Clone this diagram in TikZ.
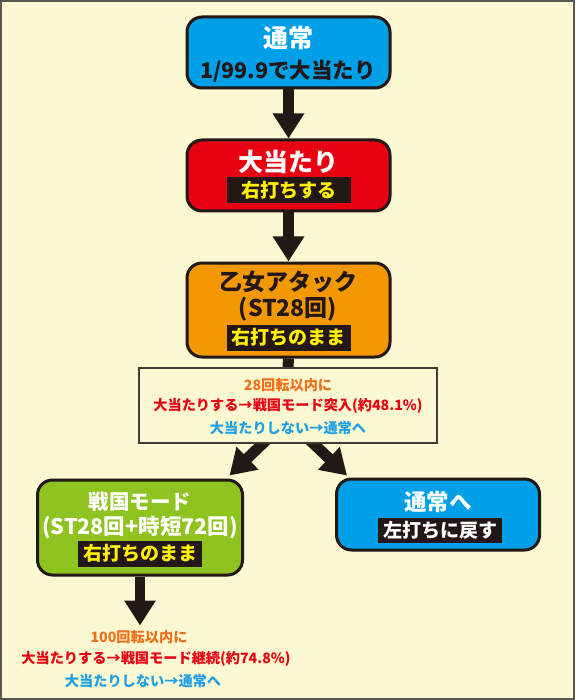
\documentclass[tikz,border=0pt]{standalone}
\usepackage{fontspec}
\setmainfont{Noto Sans CJK JP}
\usetikzlibrary{arrows.meta,calc}
\pgfdeclarelayer{bg}
\pgfsetlayers{bg,main}
\definecolor{bgc}{HTML}{FCF8D2}
\definecolor{frame}{HTML}{595757}
\definecolor{ink}{HTML}{231815}
\definecolor{cblue}{HTML}{00A0E9}
\definecolor{cred}{HTML}{E60012}
\definecolor{corange}{HTML}{F39800}
\definecolor{cgreen}{HTML}{8FC31F}
\definecolor{torange}{HTML}{EF6F1A}
\definecolor{tred}{HTML}{E60012}
\definecolor{tblue}{HTML}{1E9FE6}
\definecolor{cyellow}{HTML}{FFF100}
\tikzset{
  box/.style={draw=ink, line width=3pt, rounded corners=15pt, inner sep=0pt},
  title/.style={font=\bfseries\fontsize{#1}{#1}\selectfont, inner sep=0pt, anchor=center},
  label/.style={fill=ink, text=#1, font=\bfseries\fontsize{19}{19}\selectfont, minimum width=124pt, minimum height=26pt, inner sep=0pt},
  infobox/.style={draw=ink!85, line width=1.2pt, fill=bgc, inner sep=0pt},
  fat/.style={draw=ink, line width=11pt, -{Triangle[width=30pt,length=25pt]}},
  info/.style={font=\bfseries\fontsize{14.2}{14.2}\selectfont, inner sep=0pt, text=#1}
}
\begin{document}
\begin{tikzpicture}[x=1pt,y=-1pt]
\useasboundingbox (0,0) rectangle (575,700);
\begin{pgfonlayer}{bg}
\fill[bgc] (0,0) rectangle (575,700);
\draw[frame, line width=2pt] (1,1) rectangle (574,699);
\end{pgfonlayer}

% boxes
\node[box, fill=cblue, minimum width=203pt, minimum height=71pt] (b1) at (288.5,52.5) {};
\node[box, fill=cred, minimum width=203pt, minimum height=71pt] (b2) at (288.5,175.5) {};
\node[box, fill=corange, minimum width=203pt, minimum height=94pt] (b3) at (288.5,310) {};
\node[infobox, minimum width=298pt, minimum height=75pt] (tb) at (288,405.5) {};
\node[box, fill=cgreen, minimum width=205pt, minimum height=95pt] (b4) at (140,527.5) {};
\node[box, fill=cblue, minimum width=203pt, minimum height=71pt] (b5) at (438,514.5) {};

% box texts
\node[title=25, text=white] (t1a) at (288,38) {通常};
\node[title=21.5, text=ink] (t1b) at (288,71) {1/99.9で大当たり};
\node[title=25, text=white] (t2a) at (288,162) {大当たり};
\node[label=cyellow] (l2) at (288.5,190) {右打ちする};
\node[title=23, text=ink] (t3a) at (288,282) {乙女アタック};
\node[title=23, text=ink] (t3b) at (288,309) {(ST28回)};
\node[label=cyellow] (l3) at (288.5,337.5) {右打ちのまま};
\node[title=20.5, text=white] (t4a) at (140,502) {戦国モード};
\node[title=21.5, text=white] (t4b) at (140,527) {(ST28回+時短72回)};
\node[label=cyellow] (l4) at (140,553.5) {右打ちのまま};
\node[title=22.5, text=white] (t5a) at (438,502) {通常へ};
\node[label=white, minimum height=25pt] (l5) at (440,530.5) {左打ちに戻す};

% info texts
\node[info=torange] (i1) at (288,385) {28回転以内に};
\node[info=tred] (i2) at (288,406) {大当たりする→戦国モード突入(約48.1\%)};
\node[info=tblue] (i3) at (288,428) {大当たりしない→通常へ};
\node[info=torange] (j1) at (139,637) {100回転以内に};
\node[info=tred] (j2) at (156,659) {大当たりする→戦国モード継続(約74.8\%)};
\node[info=tblue] (j3) at (143,681) {大当たりしない→通常へ};

% arrows
\draw[fat] (b1.south) -- (b2.north);
\draw[fat] (b2.south) -- (b3.north);
\begin{pgfonlayer}{bg}
\draw[draw=ink, line width=11pt] (b3.south) -- (tb.north);
\draw[fat] ($(tb.south)+(-17,-8)$) coordinate (s1) -- ($(b4.north east)+(-14.5,-3)$) coordinate (e1);
\draw[fat] ($(tb.south)+(17,-8)$) coordinate (s2) -- ($(b5.north west)+(12,-2)$) coordinate (e2);
\end{pgfonlayer}
\draw[fat, line width=10pt] (b4.south) -- ++(0,49) coordinate (e3);
\end{tikzpicture}
\end{document}
